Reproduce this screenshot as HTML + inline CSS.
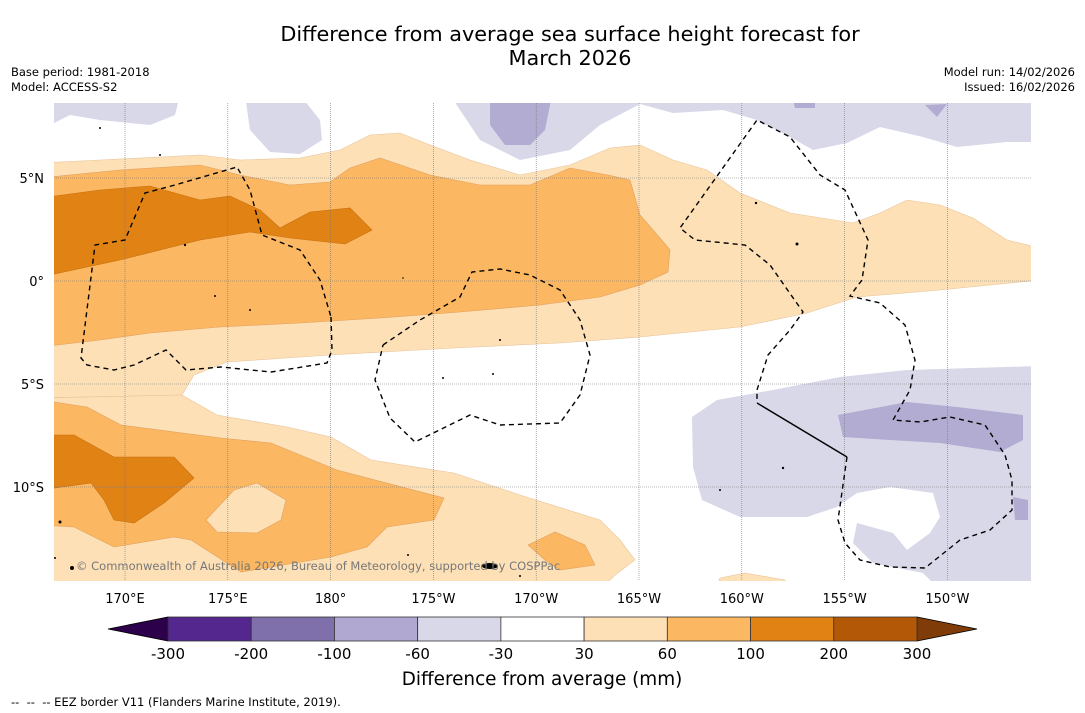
<!DOCTYPE html>
<html><head><meta charset="utf-8"><style>
body{margin:0;background:#fff;font-family:"DejaVu Sans","Liberation Sans",sans-serif;}
#wrap{position:relative;width:1085px;height:713px;overflow:hidden;background:#fff;}
.t{position:absolute;color:#000;white-space:nowrap;}
</style></head><body>
<div id="wrap">
<div class="t" style="left:0;width:1140px;top:22px;text-align:center;font-size:20.8px;line-height:24px;">Difference from average sea surface height forecast for<br>March 2026</div>
<div class="t" style="left:11px;top:65px;font-size:11.5px;line-height:15px;">Base period: 1981-2018<br>Model: ACCESS-S2</div>
<div class="t" style="right:10px;top:65px;font-size:11.5px;line-height:15px;text-align:right;">Model run: 14/02/2026<br>Issued: 16/02/2026</div>
<svg id="map" width="1085" height="713" style="position:absolute;left:0;top:0">
<defs><clipPath id="clip"><rect x="54" y="103" width="977" height="478"/></clipPath></defs>
<g clip-path="url(#clip)" id="fills" stroke-width="0.6">
<path fill="#fde0b6" stroke="#e8c49a" d="M40,163 L100,160 200,155 240,160 300,158 340,150 370,135 400,133 430,145 470,160 520,175 570,165 610,148 640,145 673,160 707,170 740,193 790,213 853,223 880,213 907,200 940,205 973,218 1007,240 1040,248 L1040,280 940,290 857,297 807,313 740,327 640,337 560,343 454,348 330,355 227,362 194,375 182,395 40,398 Z"/>
<path fill="#fde0b6" stroke="#e8c49a" d="M40,398 L182,395 217,415 287,427 331,437 371,460 454,473 520,495 600,520 620,540 635,560 615,575 600,590 40,590 Z"/>
<path fill="#fde0b6" stroke="#e8c49a" d="M715,590 L720,578 745,573 785,580 790,590 Z"/>
<path fill="#fbb761" stroke="#e0a060" d="M40,178 L120,170 200,165 240,175 290,185 330,182 350,168 380,158 430,175 480,185 530,185 570,168 608,175 630,180 640,215 660,238 670,250 668,272 640,285 600,297 540,305 460,312 380,318 300,323 220,327 150,333 100,340 40,347 Z"/>
<path fill="#fbb761" stroke="#e0a060" d="M40,400 L87,407 121,425 221,438 271,443 337,470 444,498 434,520 387,527 367,547 331,557 241,572 191,540 174,537 114,547 74,527 40,525 Z"/>
<path fill="#fde0b6" stroke="#e0a060" d="M206,520 L234,490 257,483 286,500 281,520 257,533 217,532 Z"/>
<path fill="#fbb761" stroke="#e0a060" d="M528,545 L555,532 585,545 595,565 560,570 545,560 Z"/>
<path fill="#e08214" stroke="#c87010" d="M40,198 L100,190 150,186 200,200 230,196 260,210 280,228 310,212 350,208 372,230 345,244 290,238 250,232 200,240 120,260 40,277 Z"/>
<path fill="#e08214" stroke="#c87010" d="M40,435 L74,435 114,457 174,457 194,478 164,503 134,523 114,520 104,500 91,483 40,490 Z"/>
<path fill="#d8d8e9" d="M40,95 L180,95 175,115 150,125 100,120 70,115 40,130 Z"/>
<path fill="#d8d8e9" d="M245,95 L300,95 320,120 322,140 300,154 270,152 250,130 Z"/>
<path fill="#d8d8e9" d="M450,95 L1040,95 1040,142 1007,142 957,147 923,137 880,127 847,143 813,150 790,137 757,120 723,110 673,113 640,104 600,125 570,150 520,160 480,140 Z"/>
<path fill="#b2abd2" d="M490,95 L552,95 545,130 530,145 505,145 490,125 Z"/>
<path fill="#b2abd2" d="M792,95 L815,95 815,108 795,108 Z"/>
<path fill="#b2abd2" d="M925,105 L947,104 937,117 Z"/>
<path fill="#d8d8e9" d="M692,417 L717,400 773,390 840,377 907,370 973,368 1040,366 1040,590 940,590 923,573 873,563 853,543 857,523 893,533 907,550 930,533 940,517 933,493 890,487 857,493 837,507 807,517 740,517 702,500 693,467 Z"/>
<path fill="#b2abd2" d="M838,415 L907,402 957,407 1023,415 1023,440 1000,452 940,443 890,440 843,437 Z"/>
<path fill="#b2abd2" d="M1013,497 L1028,500 1028,520 1015,520 Z"/>
</g>
<g id="grid" stroke="#777" stroke-width="0.6" stroke-dasharray="1,1"></g>
<g clip-path="url(#clip)" fill="none" stroke="#000" stroke-width="1.4" stroke-dasharray="5,4">
<path d="M331,317 L332,350 327,363 271,372 221,367 186,370 166,350 134,365 114,370 87,365 81,358 95,245 125,240 145,193 175,185 237,167 250,190 262,235 300,250 320,280 331,317"/>
<path d="M383,345 L420,320 460,297 472,272 500,269 530,275 560,290 580,320 590,355 580,395 560,423 500,425 470,415 415,442 390,418 375,380 383,345"/>
<path d="M847,457 L838,520 845,543 860,560 890,567 925,568 960,540 990,530 1012,510 1012,480 1005,455 985,425 950,417 920,422 893,420 910,390 915,360 905,325 880,303 850,296 862,280 868,240 845,190 820,175 790,137 757,120 700,200 680,228 695,240 745,245 770,265 803,312 790,330 768,355 757,390 757,403"/>
<path stroke-dasharray="none" d="M757,403 L847,457"/>
</g>
<g fill="#000">
<circle cx="100" cy="128" r="1"/><circle cx="160" cy="155" r="1"/><circle cx="185" cy="245" r="1.2"/><circle cx="215" cy="296" r="1"/><circle cx="250" cy="310" r="1"/><circle cx="403" cy="278" r="0.8"/><circle cx="500" cy="340" r="1"/><circle cx="493" cy="374" r="1"/><circle cx="443" cy="378" r="1"/><circle cx="797" cy="244" r="1.5"/><circle cx="756" cy="203" r="1.2"/><circle cx="783" cy="468" r="1.2"/><circle cx="720" cy="490" r="1"/><circle cx="60" cy="522" r="1.5"/><circle cx="72" cy="568" r="2"/><ellipse cx="490" cy="566" rx="8" ry="3"/><circle cx="520" cy="576" r="1"/><circle cx="408" cy="555" r="1"/><circle cx="55" cy="558" r="1"/>
</g>
<text x="76" y="570" font-size="11.5" fill="#777" font-family="DejaVu Sans, sans-serif">© Commonwealth of Australia 2026, Bureau of Meteorology, supported by COSPPac</text>
<g id="ticks" font-size="13" font-family="DejaVu Sans, sans-serif"></g>
<g id="cbar" font-size="15" font-family="DejaVu Sans, sans-serif"></g>
<text x="542" y="685" text-anchor="middle" font-size="18.4" font-family="DejaVu Sans, sans-serif">Difference from average (mm)</text>
<text x="11" y="706" font-size="11.5" font-family="DejaVu Sans, sans-serif" xml:space="preserve">--  --  -- EEZ border V11 (Flanders Marine Institute, 2019).</text>
</svg>
</div>
<script>
const lonTicks=[170,175,180,185,190,195,200,205,210];
const lonLabels=["170°E","175°E","180°","175°W","170°W","165°W","160°W","155°W","150°W"];
const latTicks=[5,0,-5,-10];
const latLabels=["5°N","0°","5°S","10°S"];
const cbLevels=["-300","-200","-100","-60","-30","30","60","100","200","300"];
const cbColors=["#54278f","#7f70ab","#b0a8d0","#d8d8e9","#ffffff","#fde0b6","#fbb761","#e08214","#b35806"];
const NS="http://www.w3.org/2000/svg";
const xLon=l=>125+(l-170)*20.56;
const yLat=l=>281-l*20.6;
const grid=document.getElementById('grid'),ticks=document.getElementById('ticks'),cb=document.getElementById('cbar');
lonTicks.forEach((l,i)=>{
 const ln=document.createElementNS(NS,'line');
 
 
 ln.setAttribute('x1',xLon(l));ln.setAttribute('x2',xLon(l));ln.setAttribute('y1',103);ln.setAttribute('y2',581);grid.appendChild(ln);
 const t=document.createElementNS(NS,'text');
 
 
 t.setAttribute('x',xLon(l));t.setAttribute('y',603);t.setAttribute('text-anchor','middle');t.textContent=lonLabels[i];ticks.appendChild(t);
});
latTicks.forEach((l,i)=>{
 const ln=document.createElementNS(NS,'line');
 
 
 ln.setAttribute('x1',54);ln.setAttribute('x2',1031);ln.setAttribute('y1',yLat(l));ln.setAttribute('y2',yLat(l));grid.appendChild(ln);
 const t=document.createElementNS(NS,'text');
 
 
 t.setAttribute('x',44);t.setAttribute('y',yLat(l)+5);t.setAttribute('text-anchor','end');t.textContent=latLabels[i];ticks.appendChild(t);
});
const x0=168,x1=917,cy0=617,cy1=641,w=(x1-x0)/cbColors.length;
const lt=document.createElementNS(NS,'polygon');


lt.setAttribute('points',`108,629 ${x0},${cy0} ${x0},${cy1}`);lt.setAttribute('fill','#2d004b');lt.setAttribute('stroke','#000');lt.setAttribute('stroke-width','0.8');cb.appendChild(lt);
const rt=document.createElementNS(NS,'polygon');


rt.setAttribute('points',`977,629 ${x1},${cy0} ${x1},${cy1}`);rt.setAttribute('fill','#7f3b08');rt.setAttribute('stroke','#000');rt.setAttribute('stroke-width','0.8');cb.appendChild(rt);
cbColors.forEach((c,i)=>{
 const r=document.createElementNS(NS,'rect');
 
 
 r.setAttribute('x',x0+i*w);r.setAttribute('y',cy0);r.setAttribute('width',w);r.setAttribute('height',cy1-cy0);r.setAttribute('fill',c);r.setAttribute('stroke','#333');r.setAttribute('stroke-width','0.8');cb.appendChild(r);
});
cbLevels.forEach((v,i)=>{
 const t=document.createElementNS(NS,'text');
 
 
 t.setAttribute('x',x0+i*w);t.setAttribute('y',659);t.setAttribute('text-anchor','middle');t.textContent=v;cb.appendChild(t);
});
</script>
</body></html>
